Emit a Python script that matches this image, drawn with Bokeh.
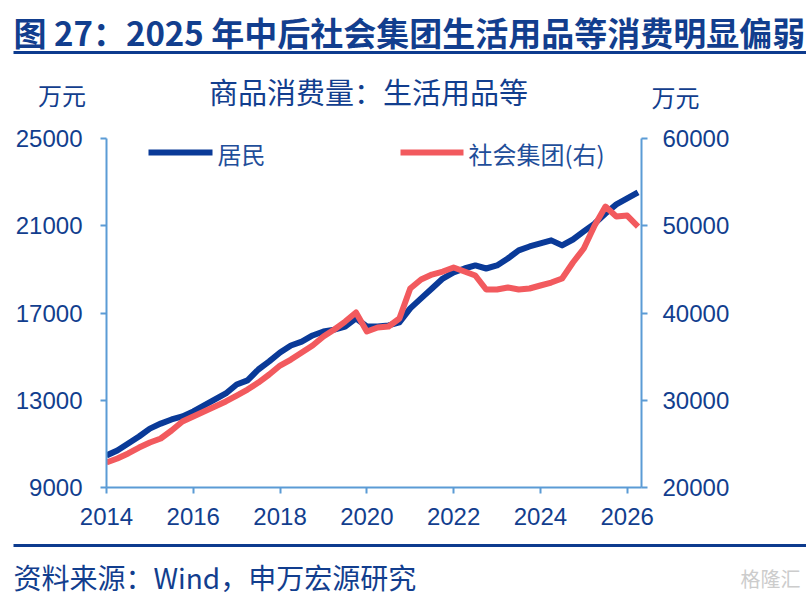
from bokeh.plotting import figure
from bokeh.layouts import column
from bokeh.models import (Range1d, LinearAxis, FixedTicker, Label, BoxAnnotation)
from bokeh.embed import file_html
from bokeh.resources import INLINE

# ---- data ----
quarters = [f"{y}Q{q}" for y in range(2014, 2027) for q in range(1, 5)][:50]
resident = [10470, 10700, 11020, 11340, 11700, 11930, 12120, 12260, 12490, 12760,
            13040, 13310, 13720, 13910, 14410, 14780, 15190, 15510, 15690, 15970,
            16150, 16240, 16380, 16750, 16380, 16380, 16430, 16570, 17210, 17670,
            18120, 18580, 18860, 19040, 19180, 19040, 19180, 19500, 19870, 20050,
            20190, 20330, 20100, 20370, 20740, 21100, 21560, 21980, 22250, 22530]
social = [22870, 23320, 23900, 24580, 25160, 25620, 26530, 27560, 28140, 28710,
          29280, 29860, 30540, 31230, 32030, 32950, 33980, 34670, 35470, 36270,
          37300, 38110, 39020, 40060, 37880, 38340, 38450, 39370, 42810, 43840,
          44410, 44750, 45210, 44750, 44300, 42690, 42690, 42920, 42690, 42810,
          43150, 43490, 43950, 45790, 47390, 50030, 52200, 51060, 51170, 49910]
x_ticks = [2014, 2016, 2018, 2020, 2022, 2024, 2026]
left_ticks = [9000, 13000, 17000, 21000, 25000]
right_ticks = [20000, 30000, 40000, 50000, 60000]
series_names = ["居民", "社会集团(右)"]
title_text = "图 27：2025 年中后社会集团生活用品等消费明显偏弱"
subtitle_text = "商品消费量：生活用品等"
unit_text = "万元"
source_text = "资料来源：Wind，申万宏源研究"
watermark = "格隆汇"

xq = [int(s[:4]) + (int(s[5]) - 1) / 4 for s in quarters]

DARK = "#123E8E"
RULE = "#0D3B8E"
AXIS = "#5B9BD5"
BLUE = "#0A3A98"
RED = "#F25A5E"
LEG = "#1F4E9A"
CJK = "Noto Sans CJK SC"
W = 806


def blank(h):
    f = figure(width=W, height=h, x_range=Range1d(0, 1), y_range=Range1d(0, 1),
               output_backend="svg", toolbar_location=None, min_border=0,
               x_axis_location=None, y_axis_location=None)
    f.outline_line_color = None
    f.grid.visible = False
    f.frame_align = False
    return f


def lab(f, text, x, y, size, align="left", bold=False, color=DARK, font=CJK):
    f.add_layout(Label(x=x, y=y, x_units="screen", y_units="screen",
                       text=text, text_font=font, text_font_size=size,
                       text_align=align, text_baseline="middle",
                       text_font_style="bold" if bold else "normal",
                       text_color=color))


def bar(f, left, right, yc, half, color):
    f.add_layout(BoxAnnotation(left=left, right=right, top=yc + half,
                               bottom=yc - half,
                               left_units="screen", right_units="screen",
                               top_units="screen", bottom_units="screen",
                               fill_color=color, fill_alpha=1, line_color=None))


# ---- header (page y 0..118) ----
head = blank(118)
lab(head, title_text, 13, 87, "33px", bold=True)
bar(head, 13, W, 66, 1.4, RULE)
lab(head, subtitle_text, 368, 28, "29px", align="center")
lab(head, unit_text, 61.5, 24.5, "24px", align="center")
lab(head, unit_text, 675, 22, "24px", align="center")

# ---- main chart (page y 118..540) ----
p = figure(width=W, height=422, x_range=Range1d(2014, 2026.33),
           y_range=Range1d(9000, 25000), output_backend="svg",
           toolbar_location=None, min_border_left=106, min_border_right=165,
           min_border_top=20, min_border_bottom=53)
p.frame_align = False
p.extra_y_ranges = {"right": Range1d(20000, 60000)}
p.outline_line_color = None
p.xgrid.visible = False
p.ygrid.visible = False

raxis = LinearAxis(y_range_name="right")
p.add_layout(raxis, "right")

p.xaxis.ticker = FixedTicker(ticks=x_ticks)
p.yaxis[0].ticker = FixedTicker(ticks=left_ticks)
raxis.ticker = FixedTicker(ticks=right_ticks)

for ax in [p.xaxis[0], p.yaxis[0], raxis]:
    ax.axis_line_color = AXIS
    ax.axis_line_width = 2
    ax.major_tick_line_color = AXIS
    ax.major_tick_line_width = 2
    ax.major_tick_in = 0
    ax.major_tick_out = 6
    ax.minor_tick_line_color = None
    ax.major_label_text_font = "Liberation Sans"
    ax.major_label_text_font_size = "24px"
    ax.major_label_text_color = DARK
p.xaxis[0].major_label_standoff = 14
p.yaxis[0].major_label_standoff = 18
raxis.major_label_standoff = 15

p.line(xq, resident, line_color=BLUE, line_width=6, line_join="round")
p.line(xq, social, line_color=RED, line_width=6, line_join="round",
       y_range_name="right")

# legend (frame-relative screen units)
bar(p, 42, 106, 335, 3, BLUE)
lab(p, series_names[0], 111, 334, "24px", color=LEG)
bar(p, 294, 357, 335, 3, RED)
lab(p, series_names[1], 362, 334, "24px", color=LEG)

# ---- footer (page y 540..604) ----
foot = blank(64)
bar(foot, 13, W, 59, 1.4, RULE)
lab(foot, source_text, 13, 27.5, "28px")
lab(foot, watermark, 800, 26, "20px", align="right", color="#CCCCCC")

layout = column(head, p, foot, spacing=0)
open("out.html", "w").write(file_html(layout, INLINE))
